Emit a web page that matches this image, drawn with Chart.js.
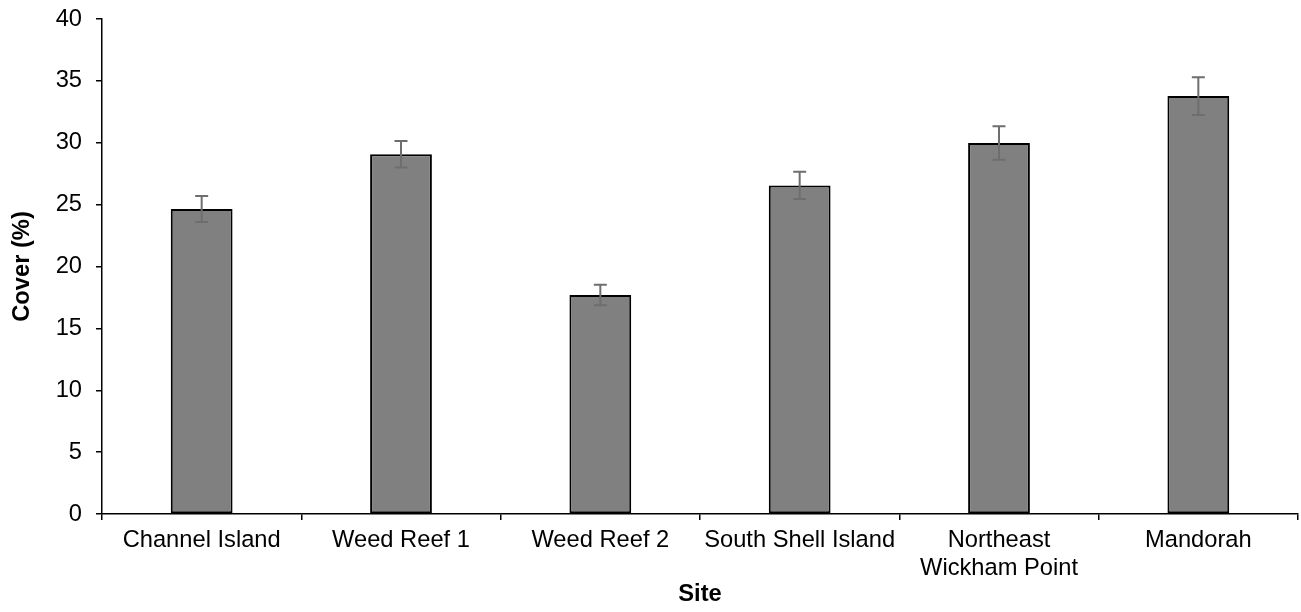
<!DOCTYPE html>
<html>
<head>
<meta charset="utf-8">
<script src="https://cdn.jsdelivr.net/npm/chart.js@4"></script>
<style>
  html, body { margin: 0; padding: 0; background: #fff; }
  #wrap { width: 1301px; height: 612px; }
</style>
</head>
<body>
<div id="wrap"><canvas id="c" width="1301" height="612"></canvas></div>
<script>
// Sites along the x axis
const sites = ['Channel Island', 'Weed Reef 1', 'Weed Reef 2', 'South Shell Island', ['Northeast', 'Wickham Point'], 'Mandorah'];
// Mean cover (%) per site
const cover = [24.65, 29.07, 17.7, 26.55, 29.98, 33.77];
// Standard error of the mean cover (%)
const coverErr = [1.05, 1.08, 0.83, 1.1, 1.36, 1.53];
// Y axis range and step
const yMin = 0, yMax = 40, yStep = 5;

const FONT = "'Liberation Sans', Arial, sans-serif";

// Draws a capped error bar on top of each bar
const errorBars = {
  id: 'errorBars',
  afterDatasetsDraw(chart) {
    const ctx = chart.ctx;
    const meta = chart.getDatasetMeta(0);
    const y = chart.scales.y;
    ctx.save();
    ctx.strokeStyle = '#6e6e6e';
    ctx.lineWidth = 2;
    meta.data.forEach((bar, i) => {
      const x = bar.x;
      const hi = y.getPixelForValue(cover[i] + coverErr[i]);
      const lo = y.getPixelForValue(cover[i] - coverErr[i]);
      const cap = 6.5;
      ctx.beginPath();
      ctx.moveTo(x, hi); ctx.lineTo(x, lo);
      ctx.moveTo(x - cap, hi); ctx.lineTo(x + cap, hi);
      ctx.moveTo(x - cap, lo); ctx.lineTo(x + cap, lo);
      ctx.stroke();
    });
    ctx.restore();
  }
};

new Chart(document.getElementById('c'), {
  type: 'bar',
  data: {
    labels: sites,
    datasets: [{
      data: cover,
      backgroundColor: '#808080',
      borderColor: '#000000',
      borderWidth: 2,
      borderSkipped: false,
      categoryPercentage: 1,
      barPercentage: 0.31
    }]
  },
  options: {
    responsive: false,
    animation: false,
    layout: { padding: { top: 19, right: 3, left: 0, bottom: 0 } },
    plugins: { legend: { display: false }, tooltip: { enabled: false } },
    scales: {
      x: {
        grid: { offset: true, drawOnChartArea: false, drawTicks: true, tickLength: 6, color: '#000', lineWidth: 1.5 },
        border: { color: '#000', width: 1.5 },
        ticks: { color: '#000', font: { family: FONT, size: 23.7, lineHeight: 1.2 }, padding: 6, maxRotation: 0, autoSkip: false },
        title: { display: true, text: 'Site', color: '#000', font: { family: FONT, size: 23.7, weight: 'bold' }, padding: { top: 4, bottom: 3 } },
        afterFit(s) { s.height = 98; s.paddingLeft = 0; s.paddingRight = 0; }
      },
      y: {
        min: yMin, max: yMax,
        grid: { drawOnChartArea: false, drawTicks: true, tickLength: 6, color: '#000', lineWidth: 1.5 },
        border: { color: '#000', width: 1.5 },
        ticks: { stepSize: yStep, color: '#000', font: { family: FONT, size: 23.7 }, padding: 14 },
        title: { display: true, text: 'Cover (%)', color: '#000', font: { family: FONT, size: 23.7, weight: 'bold' }, padding: { top: 8, bottom: 4 } },
        afterFit(s) { s.width = 102; s.paddingTop = 0; s.paddingBottom = 0; }
      }
    }
  },
  plugins: [errorBars]
});
</script>
</body>
</html>
